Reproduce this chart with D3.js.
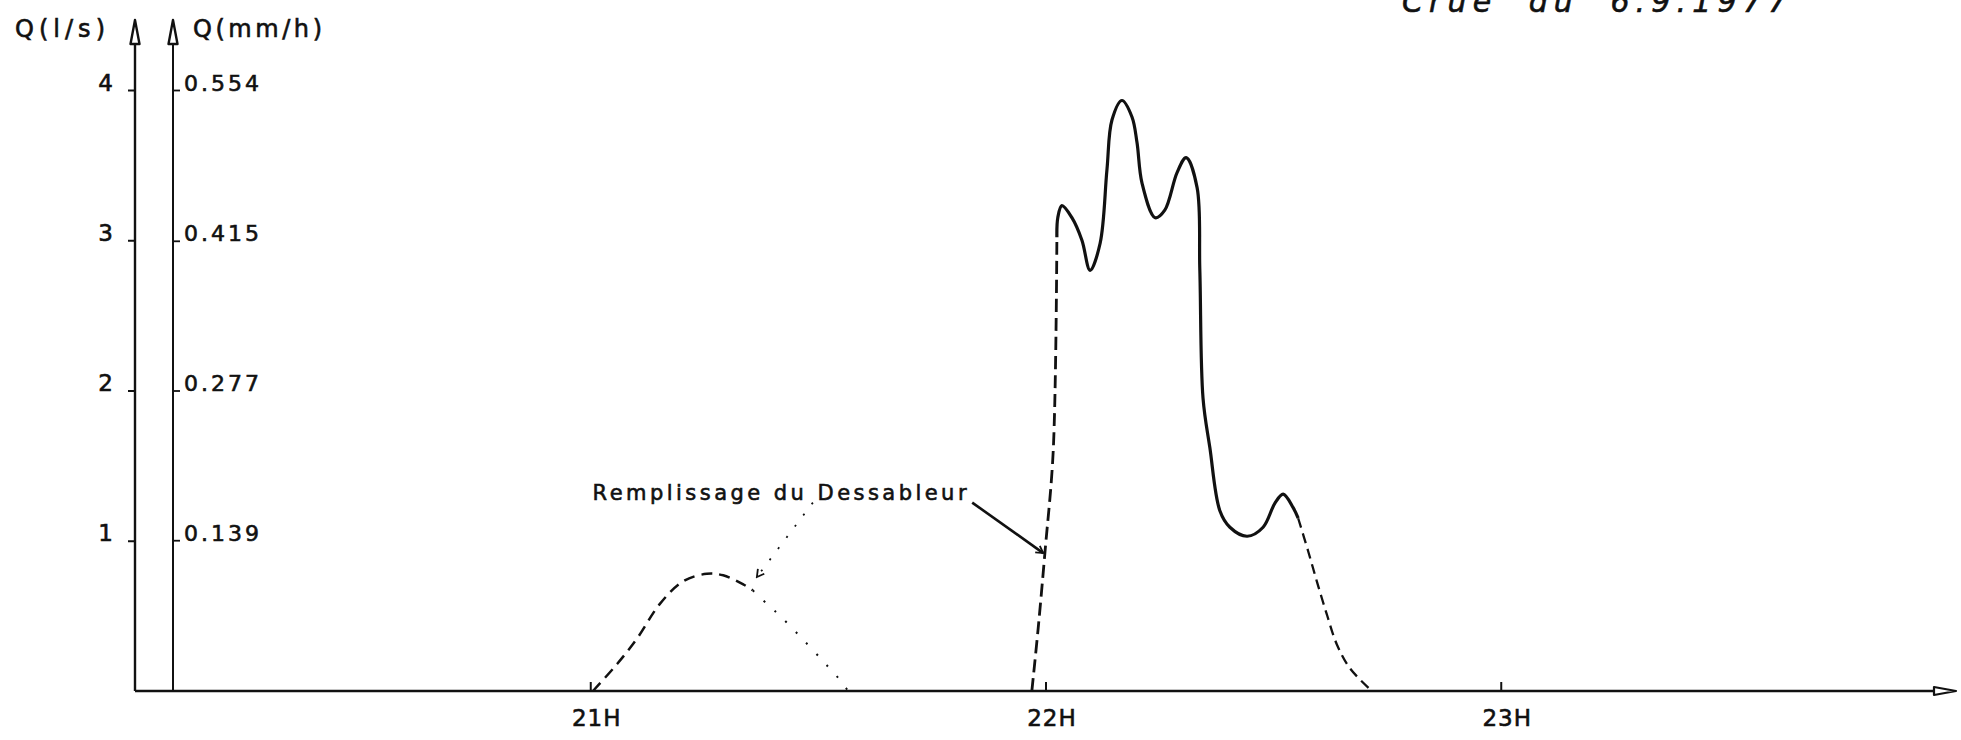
<!DOCTYPE html>
<html>
<head>
<meta charset="utf-8">
<script src="https://cdn.jsdelivr.net/npm/d3@7"></script>
<style>
  html, body { margin: 0; padding: 0; background: #fff; }
  svg { display: block; }
  text { font-family: "DejaVu Sans", sans-serif; fill: #111; stroke: #111; stroke-width: 0.6px; }
</style>
</head>
<body>
<svg id="chart" width="1961" height="740"></svg>
<script>
// ---- Hydrogramme de la crue du 6.9.1977 ----
const title = "Crue  du  6.9.1977";
const yTitleLs = "Q(l/s)";
const yTitleMm = "Q(mm/h)";
const yTicksLs = [1, 2, 3, 4];
const yTicksMm = [0.139, 0.277, 0.415, 0.554];
const xTicks = [21, 22, 23];
const xTickLabels = ["21H", "22H", "23H"];
const noteText = "Remplissage du Dessableur";

// remplissage du dessableur (tireté) puis sa décrue supposée (pointillé)
const fillT = [21.006, 21.059, 21.103, 21.153, 21.204, 21.256, 21.292, 21.336, 21.357];
const fillQ = [0, 0.18, 0.35, 0.58, 0.73, 0.78, 0.77, 0.71, 0.67];
const fillTailT = [21.357, 21.388, 21.417, 21.465, 21.520, 21.555, 21.566];
const fillTailQ = [0.67, 0.58, 0.50, 0.35, 0.17, 0.05, 0];

// montée reconstituée (tireté)
const riseT = [21.970, 21.984, 21.999, 22.017, 22.025];
const riseQ = [0, 0.42, 0.93, 1.60, 3.02];
// débit enregistré (trait plein)
const floodT = [22.025, 22.027, 22.036, 22.058, 22.080, 22.098, 22.120, 22.135, 22.146, 22.168,
                22.190, 22.201, 22.212, 22.241, 22.262, 22.289, 22.309, 22.333, 22.339, 22.346,
                22.361, 22.383, 22.405, 22.443, 22.478, 22.504, 22.522, 22.544, 22.555];
const floodQ = [3.02, 3.15, 3.23, 3.15, 3.00, 2.80, 2.98, 3.47, 3.80, 3.93,
                3.82, 3.65, 3.38, 3.15, 3.20, 3.45, 3.55, 3.35, 2.80, 1.95,
                1.62, 1.20, 1.09, 1.03, 1.09, 1.25, 1.31, 1.22, 1.15];
// décrue reconstituée (tireté)
const recessT = [22.555, 22.577, 22.596, 22.618, 22.640, 22.669, 22.717];
const recessQ = [1.15, 0.93, 0.73, 0.51, 0.31, 0.15, 0];

// annotation anchors (hour, l/s)
const notePos = [21.005, 1.27];
const leaderSolid = [[21.839, 1.254], [21.995, 0.918]];
const leaderDotted = [[21.489, 1.254], [21.366, 0.759]];

// ---- layout ----
const svg = d3.select("#chart");
const axisLsX = 135, axisMmX = 173, arrowTop = 20;
const x = d3.scaleLinear().domain([20, 24]).range([135, 1956]);
const y = d3.scaleLinear().domain([0, 4]).range([691, 90]);
const yMm = d3.scaleLinear().domain([0, 0.554]).range([691, 90]);
const ink = "#111";

const zip = (a, b) => a.map((t, i) => [t, b[i]]);
const line = d3.line().x(d => x(d[0])).y(d => y(d[1])).curve(d3.curveCatmullRom.alpha(0.5));

// open narrow arrowheads for axes
function arrowUp(cx) {
  svg.append("path")
    .attr("d", `M${cx},${arrowTop} L${cx - 4.5},${arrowTop + 24} L${cx + 4.5},${arrowTop + 24} Z`)
    .attr("fill", "#fff").attr("stroke", ink).attr("stroke-width", 2.4).attr("stroke-linejoin", "round");
}

// vertical axes
svg.append("line").attr("x1", axisLsX).attr("x2", axisLsX).attr("y1", y(0)).attr("y2", arrowTop + 22)
  .attr("stroke", ink).attr("stroke-width", 2.4);
svg.append("line").attr("x1", axisMmX).attr("x2", axisMmX).attr("y1", y(0)).attr("y2", arrowTop + 22)
  .attr("stroke", ink).attr("stroke-width", 2);
arrowUp(axisLsX);
arrowUp(axisMmX);

// horizontal axis with arrow
const xEnd = x.range()[1];
svg.append("line").attr("x1", axisLsX).attr("x2", xEnd - 20).attr("y1", y(0)).attr("y2", y(0))
  .attr("stroke", ink).attr("stroke-width", 2.4);
svg.append("path")
  .attr("d", `M${xEnd},${y(0)} L${xEnd - 22},${y(0) - 4} L${xEnd - 22},${y(0) + 4} Z`)
  .attr("fill", "#fff").attr("stroke", ink).attr("stroke-width", 2.2).attr("stroke-linejoin", "round");

// left axis ticks (l/s)
const gL = svg.append("g").attr("transform", `translate(${axisLsX},0)`)
  .call(d3.axisLeft(y).tickValues(yTicksLs).tickSize(7).tickPadding(15).tickFormat(d3.format("d")));
gL.select(".domain").remove();
gL.selectAll(".tick line").attr("stroke", ink).attr("stroke-width", 2);
gL.selectAll(".tick text").attr("dy", "0").attr("font-size", 23)
  .attr("font-family", "DejaVu Sans").attr("fill", ink);

// right axis ticks (mm/h)
const gR = svg.append("g").attr("transform", `translate(${axisMmX},0)`)
  .call(d3.axisRight(yMm).tickValues(yTicksMm).tickSize(7).tickPadding(4).tickFormat(d3.format(".3f")));
gR.select(".domain").remove();
gR.selectAll(".tick line").attr("stroke", ink).attr("stroke-width", 1.8);
gR.selectAll(".tick text").attr("dy", "0").attr("font-size", 22)
  .attr("font-family", "DejaVu Sans").attr("fill", ink).style("letter-spacing", "3px");

// bottom axis ticks (hours)
const gB = svg.append("g").attr("transform", `translate(0,${y(0)})`)
  .call(d3.axisBottom(x).tickValues(xTicks).tickSizeInner(-9).tickSizeOuter(0)
    .tickFormat((d, i) => xTickLabels[i]));
gB.select(".domain").remove();
gB.selectAll(".tick line").attr("stroke", ink).attr("stroke-width", 2);
gB.selectAll(".tick text").attr("y", 35).attr("dy", "0").attr("x", 6)
  .attr("font-size", 23).attr("font-family", "DejaVu Sans").attr("fill", ink)
  .style("letter-spacing", "1px");

// axis titles
svg.append("text").attr("x", 15).attr("y", 37).attr("font-size", 24)
  .attr("textLength", 90).attr("lengthAdjust", "spacing").text(yTitleLs);
svg.append("text").attr("x", 193).attr("y", 37).attr("font-size", 24)
  .attr("textLength", 129).attr("lengthAdjust", "spacing").text(yTitleMm);

// title (top right)
svg.append("text").attr("x", 1402).attr("y", 12).attr("font-size", 30)
  .attr("font-style", "italic").attr("textLength", 385).attr("lengthAdjust", "spacing")
  .style("white-space", "pre").attr("xml:space", "preserve").text(title);

// ---- curves ----
svg.append("path").datum(zip(fillT, fillQ)).attr("d", line)
  .attr("fill", "none").attr("stroke", ink).attr("stroke-width", 2.5).attr("stroke-dasharray", "11 7");
svg.append("path").datum(zip(fillTailT, fillTailQ)).attr("d", line)
  .attr("fill", "none").attr("stroke", ink).attr("stroke-width", 2).attr("stroke-dasharray", "2 13");

svg.append("path").datum(zip(riseT, riseQ)).attr("d", line)
  .attr("fill", "none").attr("stroke", ink).attr("stroke-width", 2.8).attr("stroke-dasharray", "13 6");
svg.append("path").datum(zip(floodT, floodQ)).attr("d", line)
  .attr("fill", "none").attr("stroke", ink).attr("stroke-width", 3.2).attr("stroke-linejoin", "round");
svg.append("path").datum(zip(recessT, recessQ)).attr("d", line)
  .attr("fill", "none").attr("stroke", ink).attr("stroke-width", 2.3).attr("stroke-dasharray", "10 6");

// ---- annotation ----
svg.append("defs").append("marker")
  .attr("id", "hook").attr("viewBox", "-8 -5 10 10").attr("refX", 0).attr("refY", 0)
  .attr("markerWidth", 10).attr("markerHeight", 10).attr("markerUnits", "userSpaceOnUse")
  .attr("orient", "auto")
  .append("path").attr("d", "M-7,-4 L0,0 L-7,4").attr("fill", "none").attr("stroke", ink).attr("stroke-width", 1.8);

svg.append("text").attr("x", x(notePos[0])).attr("y", y(notePos[1])).attr("font-size", 21)
  .attr("textLength", 374).attr("lengthAdjust", "spacing").text(noteText);

const straight = d3.line().x(d => x(d[0])).y(d => y(d[1]));
svg.append("path").datum(leaderSolid).attr("d", straight)
  .attr("fill", "none").attr("stroke", ink).attr("stroke-width", 2.6).attr("marker-end", "url(#hook)");
svg.append("path").datum(leaderDotted).attr("d", straight)
  .attr("fill", "none").attr("stroke", ink).attr("stroke-width", 1.8).attr("stroke-dasharray", "2 12")
  .attr("marker-end", "url(#hook)");
</script>
</body>
</html>
